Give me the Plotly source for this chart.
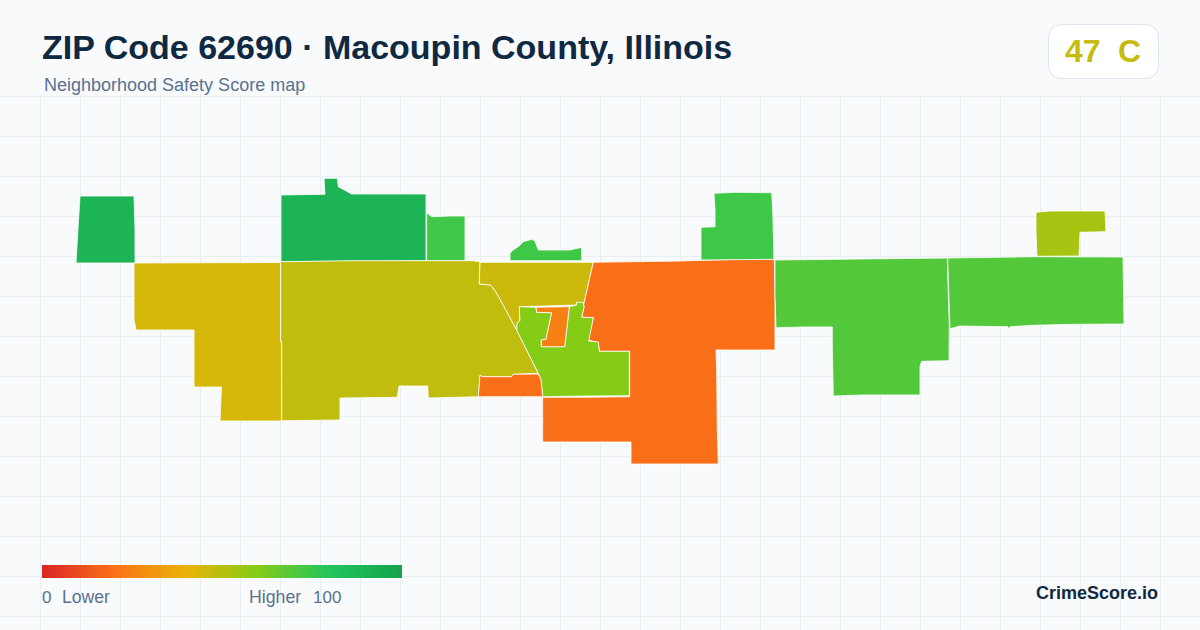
import plotly.graph_objects as go

# ---- text ----
TITLE = "ZIP Code 62690 · Macoupin County, Illinois"
SUBTITLE = "Neighborhood Safety Score map"
SCORE = "47"
GRADE = "C"
BRAND = "CrimeScore.io"

# ---- colour scale ----
SCALE_STOPS = [0, 0.2, 0.4, 0.6, 0.8, 1]
SCALE_COLORS = ["#dc2626", "#f97316", "#eab308", "#84cc16", "#22c55e", "#16a34a"]
LEGEND_VALUES = list(range(0, 101))

# ---- map regions: score and outline in map units ----
region_scores = [90, 90, 74, 74, 44, 48, 46, 19, 60, 24, 19, 74, 70, 70, 53]

r_west_x = [80, 134, 135, 135, 76]
r_west_y = [196, 196, 230, 263, 263]
r_north_x = [281, 325, 324, 337.3, 338.3, 347.3, 351.7, 426, 426, 281]
r_north_y = [195, 194.3, 178.3, 178.3, 186.7, 191.7, 194, 194, 260.7, 261.7]
r_n2_x = [426.7, 431.7, 450, 465, 465, 426.7]
r_n2_y = [212.7, 216.7, 216, 216, 260.7, 260.7]
r_n3_x = [510, 510, 513, 518.3, 523.3, 528, 531.7, 535, 538.3, 570, 581.7, 581.7]
r_n3_y = [260.7, 253.3, 250, 246.7, 241.7, 240, 239.3, 241, 250, 250, 247.3, 260.7]
r_gold_x = [134, 207, 280.7, 280.7, 281.5, 281.5, 220, 221.5, 194, 194, 136, 134]
r_gold_y = [263, 263, 262.5, 341.7, 341.7, 421, 421, 387, 387, 330, 330, 320]
r_olive_x = [280.7, 353, 473, 481, 480, 479.3, 490.7, 496.7, 516.7, 538.3, 513.3, 511.7, 482.7, 480, 478.3,
             453.3, 428.3, 427.7, 399, 397.3, 340, 340, 310.7, 281.7, 281.7, 280.7]
r_olive_y = [261.7, 260.7, 260.7, 262, 263.3, 284, 285, 293.3, 330, 373.3, 374.3, 376.7, 376.7, 375.3, 396.7,
             397.3, 398, 386, 386, 397.3, 398, 420, 420, 420.7, 341.7, 341.7]
r_mid_x = [480, 593.3, 584, 576.7, 576.7, 548.3, 519.3, 520, 517.3, 516.7, 496.7, 490.7, 479.3]
r_mid_y = [262.3, 262.3, 303.3, 302.3, 305, 306, 306.7, 320.7, 322.7, 330, 293.3, 285, 284]
r_big_x = [593.3, 646.7, 680, 738.3, 774.3, 775, 775, 716, 716.7, 717.3, 718.3, 631, 631, 542.7, 542.7, 586,
           629.7, 629.7, 599.3, 598.3, 588.3, 593.3, 581.7, 584, 583.3, 584]
r_big_y = [262.3, 261.7, 261, 259.3, 259.3, 295, 350, 350, 373.3, 430, 464, 464, 442, 442, 397.3, 397.3,
           396.7, 351.3, 351.3, 342.7, 340, 317.7, 317.3, 307.3, 302.3, 303.3]
r_lime_x = [519.3, 536, 536.7, 551.7, 546, 541.3, 541.3, 564.7, 569.3, 576.7, 576.7, 583.3, 584, 581.7, 593.3,
            588.7, 598.3, 599.3, 629.3, 629.3, 586, 542.7, 541, 538.3, 516.7, 517.3, 520]
r_lime_y = [306.7, 307.3, 312.3, 312.7, 339.3, 340, 346.7, 346.7, 306.7, 305, 302.3, 302.3, 307.3, 317.3, 317.7,
            341, 342, 351.3, 351.3, 395.7, 396, 396.7, 380, 373.3, 330, 322.7, 320.7]
r_inner_x = [536, 569.3, 564.7, 541.3, 541.3, 546, 551.7, 536.7]
r_inner_y = [307.3, 306.7, 346.7, 346.7, 340, 339.3, 312.7, 312.3]
r_low_x = [480, 482.7, 511.7, 513.3, 538.3, 541, 542.7, 478.3]
r_low_y = [375.3, 376.7, 376.7, 374.3, 374, 380, 396.7, 396.7]
r_ne_x = [714, 735, 771.7, 772.7, 774, 738.3, 701, 701, 715, 715]
r_ne_y = [193.3, 192.3, 192.7, 210, 259.3, 259.3, 260, 227.3, 226.7, 210]
r_e1_x = [775, 828.3, 933.3, 947.3, 948.3, 949.3, 949, 921.7, 920, 920, 861.7, 833.3, 832.3, 832.3, 803.3, 776, 775]
r_e1_y = [260, 259.3, 258.3, 258, 293, 326.7, 360.7, 361.3, 366.7, 395, 395, 396, 346.7, 327, 327, 327.7, 295]
r_e2_x = [947.7, 1035, 1123, 1123.3, 1124, 1073.3, 1033.3, 1010, 1008.3, 1007.7, 960, 950, 949]
r_e2_y = [258, 256.7, 257, 290, 324, 324.3, 325.3, 326.7, 328.7, 326.7, 326, 328.7, 293]
r_e3_x = [1036, 1050, 1105, 1106, 1080, 1079, 1037, 1036]
r_e3_y = [212.3, 211, 211, 231.7, 232.3, 256, 256.3, 233]

regions_x = [r_west_x, r_north_x, r_n2_x, r_n3_x, r_gold_x, r_olive_x, r_mid_x, r_big_x, r_lime_x, r_inner_x,
             r_low_x, r_ne_x, r_e1_x, r_e2_x, r_e3_x]
regions_y = [r_west_y, r_north_y, r_n2_y, r_n3_y, r_gold_y, r_olive_y, r_mid_y, r_big_y, r_lime_y, r_inner_y,
             r_low_y, r_ne_y, r_e1_y, r_e2_y, r_e3_y]

# ---- map-grid positions ----
GRID_X = [40.5 + 40 * i for i in range(29)]
GRID_Y = [96.5 + 40 * i for i in range(14)]

W, H = 1200, 630
scale = [[s, c] for s, c in zip(SCALE_STOPS, SCALE_COLORS)]


def color_of(v):
    t = v / 100
    for (s0, c0), (s1, c1) in zip(scale, scale[1:]):
        if t <= s1:
            f = (t - s0) / (s1 - s0)
            a = [int(c0[i:i + 2], 16) for i in (1, 3, 5)]
            b = [int(c1[i:i + 2], 16) for i in (1, 3, 5)]
            r, g, bl = [round(p + (q - p) * f) for p, q in zip(a, b)]
            return f"rgb({r},{g},{bl})"
    return SCALE_COLORS[-1]


fig = go.Figure()
for xs, ys, s in zip(regions_x, regions_y, region_scores):
    fig.add_trace(go.Scatter(
        x=xs + xs[:1], y=ys + ys[:1], mode="lines", fill="toself",
        fillcolor=color_of(s), line=dict(color="#ffffff", width=0.8),
        hoverinfo="skip", showlegend=False, xaxis="x", yaxis="y"))

fig.add_trace(go.Heatmap(
    x=LEGEND_VALUES, y=[0], z=[LEGEND_VALUES], colorscale=scale, zmin=0, zmax=100,
    showscale=False, hoverinfo="skip", xaxis="x2", yaxis="y2"))


def label(x, y, text, size, color, bold=False, anchor="left"):
    return dict(x=x / W, y=1 - y / H, xref="paper", yref="paper", text=f"<b>{text}</b>" if bold else text,
                showarrow=False, xanchor=anchor, yanchor="middle", borderpad=0, borderwidth=0,
                font=dict(family="Liberation Sans, Arial, sans-serif", size=size, color=color))


INK = "#0f2942"
MUTED = "#5a7190"
GRID = "#e8eff3"
GRADE_COLOR = color_of(47)

fig.update_layout(
    width=W, height=H, margin=dict(l=0, r=0, t=0, b=0),
    paper_bgcolor="#f8fafc", plot_bgcolor="#f8fafc",
    xaxis=dict(range=[0, W], domain=[0, 1], tickvals=GRID_X, showticklabels=False, ticks="",
               showgrid=True, gridcolor=GRID, gridwidth=1, zeroline=False, showline=False),
    yaxis=dict(range=[H, 95], domain=[0, 1 - 95 / H], tickvals=GRID_Y, showticklabels=False, ticks="",
               showgrid=True, gridcolor=GRID, gridwidth=1, zeroline=False,
               showline=True, linecolor=GRID, linewidth=2),
    xaxis2=dict(range=[-0.5, 100.5], domain=[42 / W, 402 / W], visible=False, anchor="y2"),
    yaxis2=dict(range=[-0.5, 0.5], domain=[1 - 578 / H, 1 - 565 / H], visible=False, anchor="x2"),
    shapes=[dict(type="path", xref="paper", yref="paper",
                 path=("M {a},{t} L {b},{t} Q {c},{t} {c},{u} L {c},{v} Q {c},{d} {b},{d} "
                       "L {a},{d} Q {e},{d} {e},{v} L {e},{u} Q {e},{t} {a},{t} Z").format(
                     a=1062.5 / W, b=1144.5 / W, c=1158.5 / W, e=1048.5 / W,
                     t=1 - 24.5 / H, u=1 - 38.5 / H, v=1 - 64.5 / H, d=1 - 78.5 / H),
                 fillcolor="#ffffff", line=dict(color="#dde3ec", width=1), layer="above")],
    annotations=[
        label(42, 47, TITLE, 34, INK, bold=True),
        label(44, 85, SUBTITLE, 18, MUTED),
        label(1065, 51, SCORE, 32, GRADE_COLOR, bold=True),
        label(1118, 51, GRADE, 32, GRADE_COLOR, bold=True),
        label(42, 597, "0", 17, MUTED),
        label(62, 597, "Lower", 17.6, MUTED),
        label(249, 597, "Higher", 17.7, MUTED),
        label(313, 597, "100", 17, MUTED),
        label(1158, 593, BRAND, 18, INK, bold=True, anchor="right"),
    ],
)

fig.write_html("out.html", config=dict(displayModeBar=False),
               post_script="document.body.style.margin='0';document.body.style.overflow='hidden';"
                           "document.body.style.background='#f8fafc';")
